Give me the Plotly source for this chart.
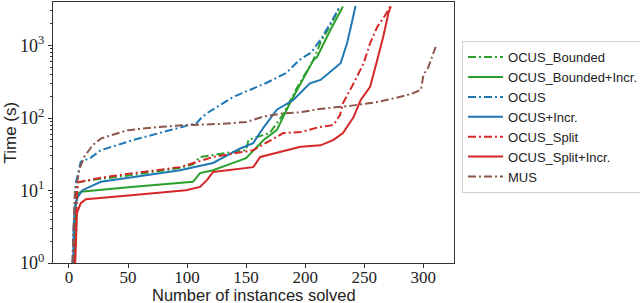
import plotly.graph_objects as go

# ---- data (instances solved vs. time in s) ----
bounded_x = [4, 5, 6, 8, 20, 53, 94, 105, 111, 139, 150, 152, 170, 181, 193, 207, 213, 222, 229.5]
bounded_y = [1, 5, 10, 13, 14, 16.3, 20.5, 23, 29, 34, 36, 50, 62, 110, 260, 630, 1100, 2000, 3450]

bounded_inc_x = [4, 5, 6, 8.4, 10, 55, 105, 111, 122, 139, 150, 165, 176, 187, 196, 207, 210, 221, 232]
bounded_inc_y = [1, 4, 7, 9.2, 9.6, 11.3, 13.2, 17.4, 19, 24, 28, 50, 68, 160, 300, 630, 690, 1600, 3450]

ocus_x = [3, 4, 5, 6, 8, 10, 18, 27, 55, 94, 108, 112, 117, 139, 167, 184, 195, 205, 213, 223, 229]
ocus_y = [1, 3, 8, 13, 19, 25, 28, 36, 50, 73, 85, 100, 117, 195, 304, 418, 630, 800, 1200, 2240, 3400]

ocus_inc_x = [3.6, 4, 5, 7.3, 11.5, 27, 55, 94, 122, 145, 156, 165, 176, 190, 204, 213, 230, 235.5, 240, 242.6]
ocus_inc_y = [1, 3.1, 6, 8.1, 10.1, 13.2, 15.4, 19, 24, 38, 45, 75, 130, 177, 300, 335, 570, 1080, 2250, 3500]

split_x = [5, 6, 7, 8, 27, 55, 94, 122, 156, 181.5, 196, 212, 224, 229.5, 232, 241, 249.5, 255, 261, 268, 272]
split_y = [1, 5, 10, 13, 15, 17.4, 21, 29, 36, 62, 64, 75, 80, 110, 160, 300, 570, 1080, 1800, 2650, 3450]

split_inc_x = [5.3, 6.8, 10, 14.4, 55, 99, 111, 117, 122, 156, 162, 196, 213, 224, 232, 241, 247, 255, 261, 266, 270.5, 272.5]
split_inc_y = [1, 4.9, 6.7, 7.6, 8.7, 10.1, 11.2, 14, 18, 21, 29, 40, 42, 50, 62, 103, 177, 270, 630, 1300, 2800, 3450]

mus_x = [3, 4, 5, 6, 7.3, 9, 12.9, 20, 27, 33, 50, 75, 100, 130, 150, 165, 180, 196, 212, 238, 260, 277, 290, 298, 300, 302, 304, 307, 309, 310.5]
mus_y = [1, 4, 9, 12, 14, 20, 29, 42, 52, 56, 68, 75, 80, 83, 88, 105, 115, 120, 133, 147, 165, 190, 215, 245, 380, 440, 490, 670, 820, 960]

names = ["OCUS_Bounded", "OCUS_Bounded+Incr.", "OCUS", "OCUS+Incr.",
         "OCUS_Split", "OCUS_Split+Incr.", "MUS"]
x_ticks = [0, 50, 100, 150, 200, 250, 300]
y_ticks = [1, 10, 100, 1000]
y_tick_text = ["10<sup>0</sup>", "10<sup>1</sup>", "10<sup>2</sup>", "10<sup>3</sup>"]

xs = [bounded_x, bounded_inc_x, ocus_x, ocus_inc_x, split_x, split_inc_x, mus_x]
ys = [bounded_y, bounded_inc_y, ocus_y, ocus_inc_y, split_y, split_inc_y, mus_y]
colors = ["#2ca02c", "#2ca02c", "#1f77b4", "#1f77b4", "#d62728", "#d62728", "#8c564b"]
DASHDOT = "8px,3px,2px,3px"
dashes = [DASHDOT, "solid", DASHDOT, "solid", DASHDOT, "solid", DASHDOT]

fig = go.Figure()
for n, x, y, c, d in zip(names, xs, ys, colors, dashes):
    fig.add_trace(go.Scatter(x=x, y=y, mode="lines", name=n,
                             line=dict(color=c, width=2, dash=d)))

serif = "Liberation Serif, DejaVu Serif, serif"
sans = "Liberation Sans, Arial, sans-serif"
TXT = "#222222"

fig.update_layout(
    width=640, height=303,
    margin=dict(l=53, r=186, t=2, b=40, autoexpand=False),
    paper_bgcolor="white", plot_bgcolor="white",
    showlegend=True,
    legend=dict(x=1.02, y=0.85, xanchor="left", yanchor="top",
                bordercolor="#d0d0d0", borderwidth=1, bgcolor="white",
                font=dict(family=sans, size=13, color=TXT),
                itemwidth=35, tracegroupgap=0),
    xaxis=dict(range=[-13.5, 326], tickmode="array", tickvals=x_ticks,
               ticks="outside", ticklen=4, tickcolor="#333",
               ticklabelstandoff=-5,
               showgrid=False, zeroline=False,
               showline=True, mirror=True, linecolor="#333", linewidth=1,
               tickfont=dict(family=serif, size=17, color=TXT)),
    yaxis=dict(type="log", range=[0, 3.6], tickmode="array",
               tickvals=y_ticks, ticktext=y_tick_text,
               ticks="outside", ticklen=4, tickcolor="#333",
               minor=dict(ticks="outside", ticklen=2, tickcolor="#333",
                          dtick="D1", showgrid=False),
               showgrid=False, zeroline=False,
               showline=True, mirror=True, linecolor="#333", linewidth=1,
               tickfont=dict(family=serif, size=18, color=TXT)),
    annotations=[
        dict(text="Number of instances solved", xref="paper", yref="paper",
             x=0.5, y=0, xanchor="center", yanchor="middle", yshift=-32,
             showarrow=False, font=dict(family=sans, size=16.5, color=TXT)),
        dict(text="Time (s)", xref="paper", yref="paper", textangle=-90,
             x=0, y=0.5, xanchor="center", yanchor="middle", xshift=-43,
             showarrow=False, font=dict(family=sans, size=17, color=TXT)),
    ],
)

fig.write_html("out.html", config={"displayModeBar": False},
               post_script="document.body.style.margin='0';document.body.style.padding='0';")
